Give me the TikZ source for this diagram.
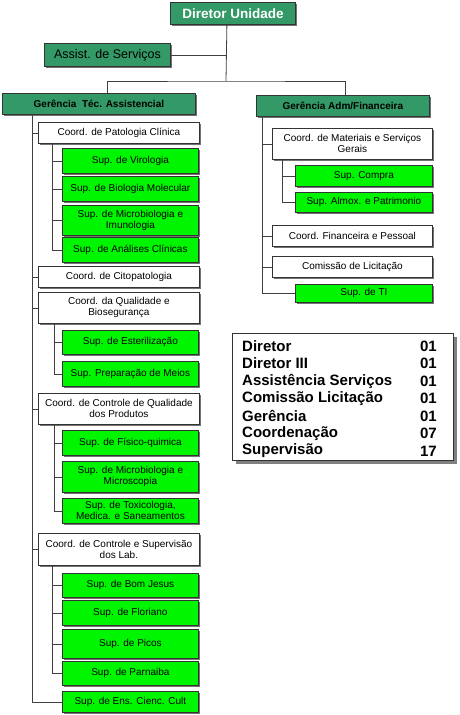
\documentclass[tikz,border=0pt]{standalone}
\usepackage{fontspec}
\setmainfont{Liberation Sans}
\usepackage{tikz}
\usetikzlibrary{shadows}

\definecolor{dkgreen}{RGB}{51,153,102}
\definecolor{ltgreen}{RGB}{0,245,0}

\tikzset{
  box/.style={draw=black!80, line width=0.8pt, inner sep=0pt, anchor=north west,
    align=center, font=\fontsize{10}{11}\selectfont,
    drop shadow={shadow xshift=1.8pt, shadow yshift=-1.8pt, fill=black!55, opacity=1}},
  dirbox/.style={box, fill=dkgreen, text=white, font=\bfseries\fontsize{13.5}{15}\selectfont},
  asstbox/.style={box, fill=dkgreen, font=\fontsize{12.5}{14}\selectfont},
  gerbox/.style={box, fill=dkgreen, font=\bfseries\fontsize{10}{11}\selectfont},
  coordbox/.style={box, fill=white},
  supbox/.style={box, fill=ltgreen},
  link/.style={draw=black!75, line width=0.8pt},
  lgtxt/.style={inner sep=0pt, font=\bfseries\fontsize{15}{16}\selectfont}
}

\begin{document}
\begin{tikzpicture}[x=1pt, y=-1pt]
  \fill[white] (0,0) rectangle (460,715);
  \useasboundingbox (0,0) rectangle (460,715);

  % top of the chart
  \node[dirbox, minimum width=125pt, minimum height=22pt] (dir) at (170,2) {Diretor Unidade};
  \node[asstbox, minimum width=126pt, minimum height=23pt] (asst) at (44,43) {Assist. de Serviços};
  \node[gerbox, minimum width=193pt, minimum height=21pt] (gta) at (2,93) {Gerência\ \ Téc. Assistencial};
  \node[gerbox, minimum width=173pt, minimum height=21pt] (gadm) at (256,95) {Gerência Adm/Financeira};
  \coordinate (hub) at (226,81);

  % left branch
  \node[coordbox, minimum width=161pt, minimum height=21pt] (cpc) at (38,122) {Coord. de Patologia Clínica};
  \node[supbox, minimum width=136pt, minimum height=25pt] (svir) at (62,148) {Sup. de Virologia};
  \node[supbox, minimum width=136pt, minimum height=25pt] (sbio) at (62,176) {Sup. de Biologia Molecular};
  \node[supbox, minimum width=136pt, minimum height=30pt] (smic) at (62,205) {Sup. de Microbiologia e\\Imunologia};
  \node[supbox, minimum width=136pt, minimum height=25pt] (sana) at (62,237) {Sup. de Análises Clínicas};
  \node[coordbox, minimum width=161pt, minimum height=21pt] (cci) at (38,266) {Coord. de Citopatologia};
  \node[coordbox, minimum width=161pt, minimum height=31pt] (cqb) at (38,292) {Coord. da Qualidade e\\Biosegurança};
  \node[supbox, minimum width=136pt, minimum height=24pt] (sest) at (62,330) {Sup. de Esterilização};
  \node[supbox, minimum width=136pt, minimum height=25pt] (spre) at (62,361) {Sup. Preparação de Meios};
  \node[coordbox, minimum width=161pt, minimum height=31pt] (ccq) at (38,393) {Coord. de Controle de Qualidade\\dos Produtos};
  \node[supbox, minimum width=136pt, minimum height=25pt] (sfis) at (62,430) {Sup. de Físico-quimica};
  \node[supbox, minimum width=136pt, minimum height=31pt] (smcr) at (62,461) {Sup. de Microbiologia e\\Microscopia};
  \node[supbox, minimum width=136pt, minimum height=25pt] (stox) at (62,498) {Sup. de Toxicologia,\\Medica. e Saneamentos};
  \node[coordbox, minimum width=161pt, minimum height=32pt] (ccs) at (38,533) {Coord. de Controle e Supervisão\\dos Lab.};
  \node[supbox, minimum width=136pt, minimum height=24pt] (sbom) at (62,573) {Sup. de Bom Jesus};
  \node[supbox, minimum width=136pt, minimum height=25pt] (sflo) at (62,600) {Sup. de Floriano};
  \node[supbox, minimum width=136pt, minimum height=29pt] (spic) at (62,629) {Sup. de Picos};
  \node[supbox, minimum width=136pt, minimum height=24pt] (spar) at (62,661) {Sup. de Parnaiba};
  \node[supbox, minimum width=136pt, minimum height=21pt] (sens) at (62,691) {Sup. de Ens. Cienc. Cult};

  % right branch
  \node[coordbox, minimum width=160pt, minimum height=31pt] (cmat) at (272,128) {Coord. de Materiais e Serviços\\Gerais};
  \node[supbox, minimum width=137pt, minimum height=21pt] (scom) at (295,165) {Sup. Compra};
  \node[supbox, minimum width=137pt, minimum height=20pt] (salm) at (295,192) {Sup. Almox. e Patrimonio};
  \node[coordbox, minimum width=160pt, minimum height=21pt] (cfin) at (272,225) {Coord. Financeira e Pessoal};
  \node[coordbox, minimum width=160pt, minimum height=21pt] (clic) at (272,256) {Comissão de Licitação};
  \node[supbox, minimum width=137pt, minimum height=18pt] (sti) at (295,284) {Sup. de TI};

  % connectors
  \draw[link] ([xshift=-6pt]dir.south) -- (hub);
  \draw[link] (asst.east) -- (asst.east -| hub);
  \draw[link] ([xshift=8pt]gta.north) |- (hub) -| ([xshift=2pt]gadm.north);
  \foreach \c in {cpc,cci,cqb,ccq,ccs,sens}
    \draw[link] ([xshift=30pt]gta.south west) |- (\c.west);
  \foreach \c in {svir,sbio,smic,sana}
    \draw[link] ([xshift=14pt]cpc.south west) |- (\c.west);
  \foreach \c in {sest,spre}
    \draw[link] ([xshift=16pt]cqb.south west) |- (\c.west);
  \foreach \c in {sfis,smcr,stox}
    \draw[link] ([xshift=16pt]ccq.south west) |- (\c.west);
  \foreach \c in {sbom,sflo,spic,spar}
    \draw[link] ([xshift=14pt]ccs.south west) |- (\c.west);
  \foreach \c in {cmat,cfin,clic,sti}
    \draw[link] ([xshift=6pt]gadm.south west) |- (\c.west);
  \foreach \c in {scom,salm}
    \draw[link] ([xshift=10pt]cmat.south west) |- (\c.west);

  % totals
  \node[draw=black!80, line width=0.9pt, fill=white, inner sep=0pt, anchor=north west,
    minimum width=221pt, minimum height=127pt,
    drop shadow={shadow xshift=3.5pt, shadow yshift=-3.5pt, fill=black!50, opacity=1}]
    (legend) at (232,333) {};
  \foreach \i/\n/\v in {1/Diretor/01, 2/Diretor III/01, 3/Assistência Serviços/01,
      4/Comissão Licitação/01, 5/Gerência/01, 6/Coordenação/07, 7/Supervisão/17} {
    \node[lgtxt, anchor=west] (lname\i) at (242,{346+17.5*(\i-1)}) {\n};
    \node[lgtxt, anchor=east] (lnum\i) at (437,{346+17.5*(\i-1)}) {\v};
  }
\end{tikzpicture}
\end{document}
